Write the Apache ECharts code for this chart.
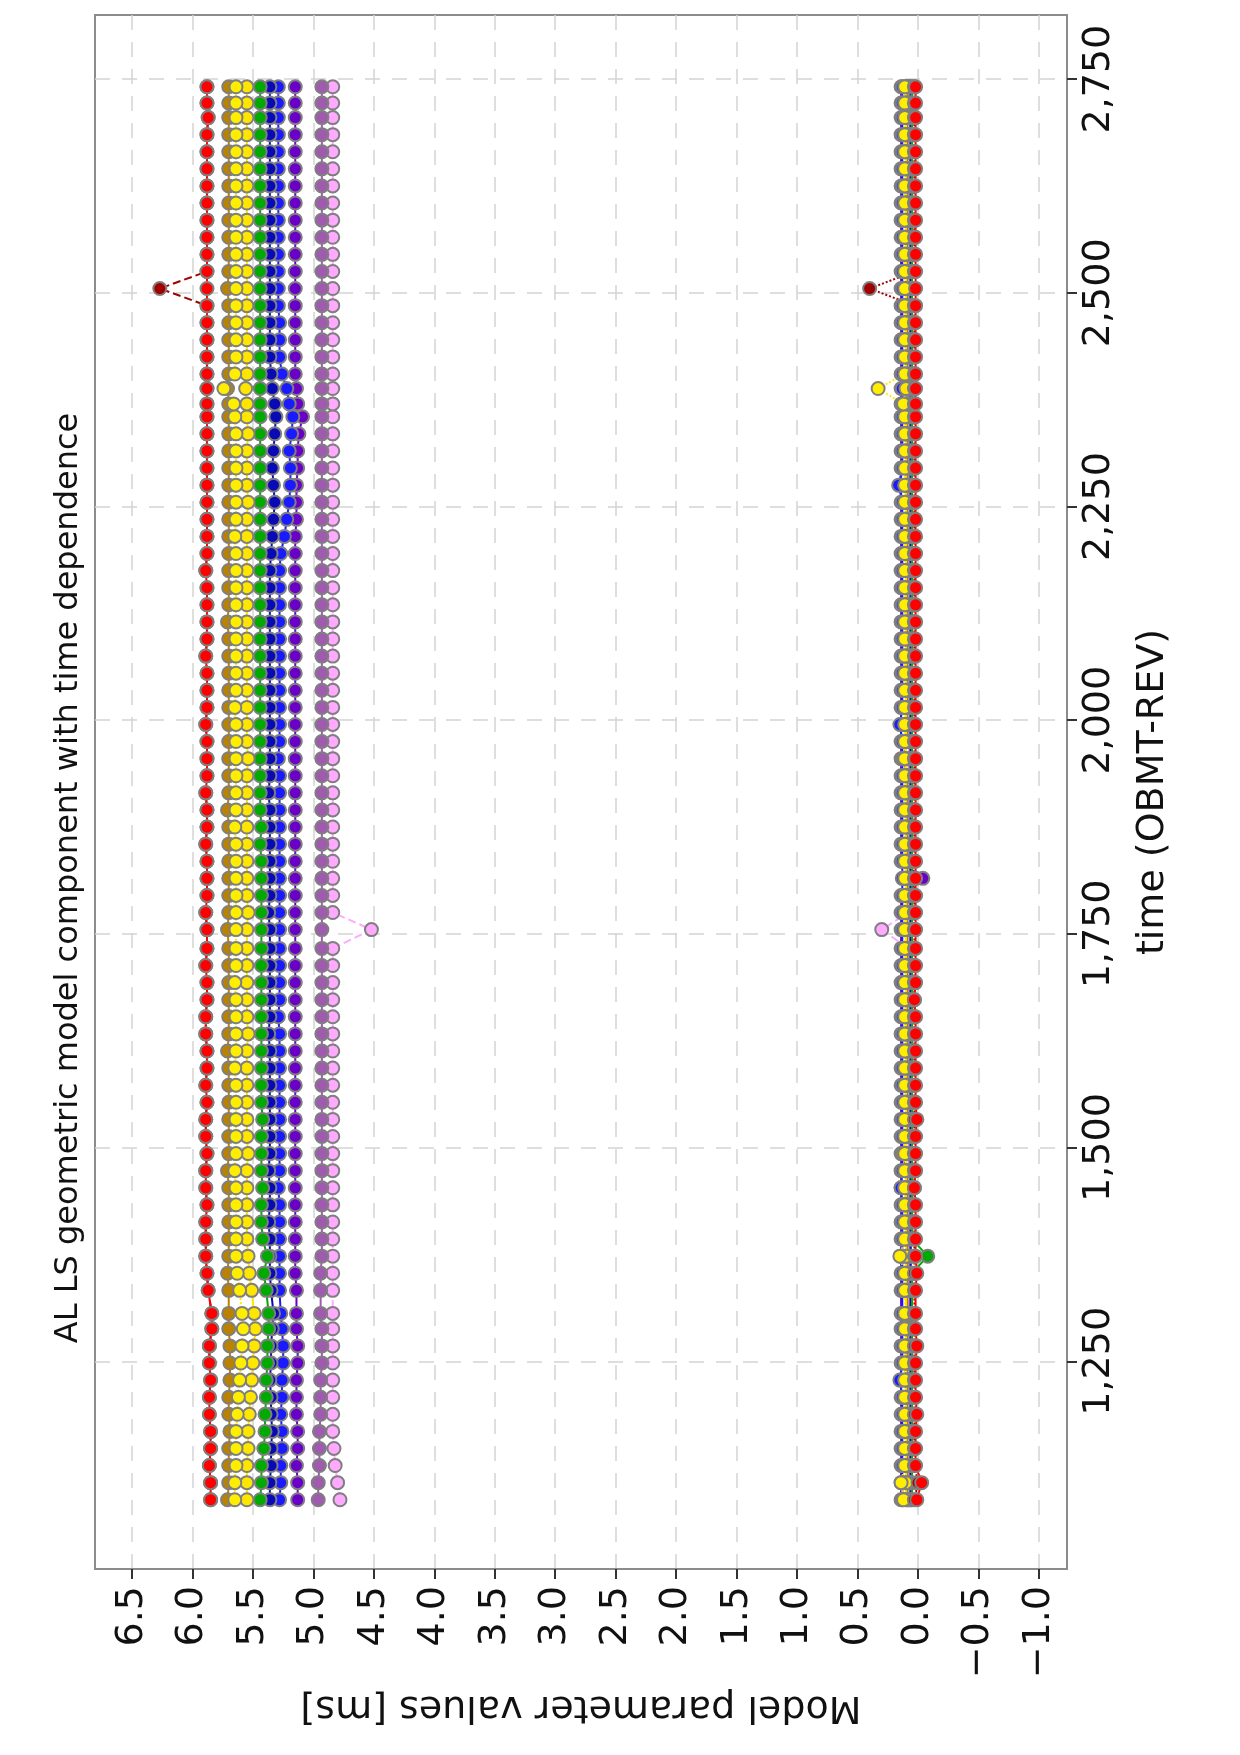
<!DOCTYPE html>
<html>
<head>
<meta charset="utf-8">
<title>AL LS geometric model component with time dependence</title>
<script src="https://cdn.jsdelivr.net/npm/echarts@6/dist/echarts.min.js"></script>
<style>
  html, body { margin: 0; padding: 0; background: #fff; }
  #main { width: 1240px; height: 1755px; }
</style>
</head>
<body>
<div id="main"></div>
<script>
// fit epochs, time (OBMT-REV)
var obmt = [
  1088,1108,1128,1148,1168,1188,1208,1228,1248,1268,1288,1306,
  1333,1353,1373,1393,1413,1433,1453,1473,1493,1513,1533,1553,
  1573,1593,1613,1633,1653,1673,1693,1713,1733,1755,1775,1795,
  1815,1835,1855,1875,1895,1915,1935,1955,1975,1995,2015,2035,
  2055,2075,2095,2115,2135,2155,2175,2195,2215,2235,2255,2275,
  2295,2315,2335,2355,2370,2388,2405,2425,2445,2465,2485,2505,
  2525,2545,2565,2585,2605,2625,2645,2665,2685,2705,2722,2741
];

// offset parameters [ms]
var offRed = [
  5.85,5.85,5.86,5.85,5.85,5.86,5.86,5.85,5.86,5.86,5.84,5.84,
  5.87,5.88,5.89,5.89,5.89,5.88,5.89,5.89,5.88,5.89,5.89,5.88,
  5.89,5.88,5.88,5.89,5.89,5.88,5.88,5.89,5.88,5.88,5.89,5.88,
  5.88,5.88,5.89,5.88,5.88,5.89,5.88,5.88,5.88,5.89,5.88,5.88,
  5.88,5.89,5.88,5.88,5.88,5.88,5.89,5.88,5.88,5.88,5.88,5.88,
  5.88,5.88,5.88,5.88,5.88,5.88,5.88,5.88,5.88,5.88,5.88,5.88,
  5.88,5.88,5.88,5.88,5.88,5.88,5.88,5.88,5.88,5.87,5.88,5.88
];
var offDarkred = [
  5.85,5.85,5.86,5.85,5.85,5.86,5.86,5.85,5.86,5.86,5.84,5.84,
  5.87,5.88,5.89,5.89,5.89,5.88,5.89,5.89,5.88,5.89,5.89,5.88,
  5.89,5.88,5.88,5.89,5.89,5.88,5.88,5.89,5.88,5.88,5.89,5.88,
  5.88,5.88,5.89,5.88,5.88,5.89,5.88,5.88,5.88,5.89,5.88,5.88,
  5.88,5.89,5.88,5.88,5.88,5.88,5.89,5.88,5.88,5.88,5.88,5.88,
  5.88,5.88,5.88,5.88,5.88,5.88,5.88,5.88,5.88,5.88,5.88,6.27,
  5.88,5.88,5.88,5.88,5.88,5.88,5.88,5.88,5.88,5.87,5.88,5.88
];
var offGoldenrod = [
  5.71,5.70,5.70,5.70,5.69,5.70,5.70,5.69,5.69,5.69,5.70,5.70,
  5.70,5.71,5.70,5.70,5.70,5.70,5.70,5.71,5.70,5.70,5.70,5.70,
  5.70,5.70,5.71,5.70,5.70,5.70,5.70,5.70,5.70,5.71,5.70,5.70,
  5.70,5.70,5.70,5.70,5.71,5.70,5.70,5.70,5.70,5.70,5.70,5.70,
  5.70,5.70,5.70,5.71,5.70,5.70,5.70,5.70,5.70,5.70,5.70,5.70,
  5.70,5.70,5.70,5.70,5.70,5.71,5.70,5.70,5.70,5.70,5.70,5.71,
  5.70,5.70,5.70,5.70,5.70,5.70,5.70,5.70,5.70,5.70,5.70,5.70
];
var offYellowA = [
  5.65,5.65,5.64,5.64,5.64,5.63,5.62,5.61,5.60,5.59,5.58,5.59,
  5.61,5.63,5.64,5.64,5.64,5.64,5.64,5.65,5.64,5.64,5.64,5.64,
  5.64,5.65,5.64,5.64,5.64,5.64,5.65,5.64,5.64,5.64,5.64,5.64,
  5.64,5.64,5.64,5.65,5.64,5.64,5.64,5.64,5.64,5.64,5.65,5.64,
  5.64,5.64,5.64,5.64,5.64,5.64,5.64,5.64,5.65,5.64,5.64,5.64,
  5.64,5.64,5.64,5.65,5.66,5.74,5.65,5.64,5.64,5.64,5.64,5.64,
  5.64,5.64,5.64,5.64,5.64,5.64,5.64,5.64,5.64,5.64,5.64,5.64
];
var offYellowB = [
  5.55,5.55,5.55,5.54,5.54,5.53,5.52,5.51,5.50,5.49,5.48,5.49,
  5.51,5.53,5.54,5.55,5.55,5.55,5.55,5.55,5.54,5.55,5.55,5.55,
  5.55,5.55,5.55,5.54,5.55,5.55,5.55,5.55,5.55,5.55,5.54,5.55,
  5.55,5.55,5.55,5.55,5.55,5.55,5.55,5.54,5.55,5.55,5.55,5.55,
  5.55,5.55,5.55,5.55,5.55,5.55,5.55,5.55,5.55,5.55,5.54,5.55,
  5.55,5.55,5.54,5.55,5.55,5.56,5.55,5.55,5.55,5.55,5.55,5.55,
  5.55,5.55,5.55,5.55,5.55,5.55,5.55,5.55,5.55,5.55,5.55,5.55
];
var offGreen = [
  5.44,5.43,5.43,5.41,5.40,5.40,5.39,5.39,5.38,5.38,5.37,5.37,
  5.39,5.41,5.38,5.42,5.43,5.43,5.42,5.43,5.43,5.43,5.42,5.43,
  5.43,5.43,5.43,5.43,5.43,5.43,5.43,5.43,5.43,5.43,5.43,5.43,
  5.43,5.43,5.44,5.43,5.44,5.44,5.44,5.44,5.44,5.44,5.44,5.44,
  5.44,5.44,5.44,5.44,5.44,5.44,5.44,5.44,5.44,5.44,5.44,5.44,
  5.44,5.44,5.44,5.44,5.44,5.44,5.44,5.44,5.44,5.44,5.44,5.44,
  5.44,5.44,5.44,5.44,5.44,5.44,5.44,5.44,5.44,5.44,5.44,5.44
];
var offNavy = [
  5.36,5.36,5.35,5.35,5.34,5.35,5.35,5.36,5.35,5.35,5.34,5.33,
  5.35,5.36,5.36,5.36,5.37,5.36,5.36,5.37,5.36,5.36,5.36,5.36,
  5.36,5.36,5.36,5.37,5.36,5.36,5.36,5.36,5.36,5.36,5.37,5.36,
  5.36,5.36,5.36,5.36,5.36,5.37,5.36,5.36,5.36,5.36,5.36,5.36,
  5.36,5.36,5.36,5.36,5.36,5.36,5.36,5.35,5.34,5.33,5.32,5.33,
  5.34,5.33,5.32,5.31,5.32,5.34,5.35,5.36,5.36,5.36,5.36,5.36,
  5.36,5.36,5.36,5.36,5.36,5.36,5.36,5.36,5.36,5.36,5.36,5.36
];
var offBlue = [
  5.28,5.27,5.27,5.26,5.26,5.27,5.26,5.26,5.25,5.25,5.26,5.27,
  5.28,5.28,5.28,5.28,5.28,5.28,5.29,5.28,5.28,5.28,5.28,5.28,
  5.28,5.28,5.28,5.28,5.29,5.28,5.28,5.28,5.28,5.28,5.28,5.28,
  5.28,5.28,5.28,5.28,5.28,5.28,5.28,5.29,5.28,5.28,5.28,5.28,
  5.28,5.28,5.28,5.28,5.28,5.28,5.28,5.27,5.24,5.22,5.20,5.19,
  5.19,5.20,5.18,5.17,5.20,5.22,5.26,5.28,5.28,5.28,5.29,5.29,
  5.29,5.29,5.29,5.29,5.29,5.29,5.29,5.29,5.29,5.29,5.29,5.29
];
var offPurple = [
  5.13,5.13,5.14,5.13,5.13,5.14,5.14,5.14,5.13,5.13,5.14,5.14,
  5.14,5.15,5.15,5.15,5.15,5.15,5.15,5.15,5.15,5.15,5.15,5.15,
  5.15,5.15,5.15,5.15,5.15,5.15,5.15,5.15,5.15,5.15,5.15,5.15,
  5.15,5.15,5.15,5.15,5.15,5.15,5.15,5.15,5.15,5.15,5.15,5.15,
  5.15,5.15,5.15,5.15,5.15,5.15,5.15,5.15,5.15,5.14,5.14,5.14,
  5.13,5.13,5.12,5.09,5.13,5.14,5.15,5.15,5.15,5.15,5.15,5.15,
  5.15,5.15,5.15,5.15,5.15,5.15,5.15,5.15,5.15,5.15,5.15,5.15
];
var offOrchid = [
  4.96,4.96,4.95,4.95,4.95,4.94,4.94,4.94,4.93,4.93,4.93,4.94,
  4.94,4.94,4.93,4.93,4.93,4.93,4.93,4.93,4.93,4.93,4.93,4.93,
  4.93,4.93,4.93,4.93,4.93,4.93,4.93,4.93,4.93,4.93,4.93,4.93,
  4.93,4.93,4.93,4.93,4.93,4.93,4.93,4.93,4.93,4.93,4.93,4.93,
  4.93,4.93,4.93,4.93,4.93,4.93,4.93,4.93,4.93,4.93,4.93,4.93,
  4.93,4.93,4.93,4.93,4.93,4.93,4.93,4.93,4.93,4.93,4.93,4.93,
  4.93,4.93,4.93,4.93,4.93,4.93,4.93,4.93,4.93,4.93,4.93,4.93
];
var offPink = [
  4.78,4.80,4.82,4.83,4.84,4.84,4.84,4.84,4.84,4.84,4.84,4.84,
  4.84,4.84,4.84,4.84,4.84,4.84,4.84,4.84,4.84,4.84,4.84,4.84,
  4.84,4.84,4.84,4.84,4.84,4.84,4.84,4.84,4.84,4.52,4.84,4.84,
  4.84,4.84,4.84,4.84,4.84,4.84,4.84,4.84,4.84,4.84,4.84,4.84,
  4.84,4.84,4.84,4.84,4.84,4.84,4.84,4.84,4.84,4.84,4.84,4.84,
  4.84,4.84,4.84,4.84,4.84,4.84,4.84,4.84,4.84,4.84,4.84,4.84,
  4.84,4.84,4.84,4.84,4.84,4.84,4.84,4.84,4.84,4.84,4.84,4.84
];

// time dependent parameters [ms]
var tdRed = [
  0.01,-0.03,0.02,0.02,0.02,0.01,0.02,0.02,0.02,0.01,0.02,0.02,
  0.02,0.01,0.02,0.02,0.02,0.02,0.03,0.02,0.02,0.02,0.01,0.02,
  0.02,0.02,0.02,0.02,0.02,0.03,0.02,0.02,0.02,0.02,0.02,0.02,
  0.02,0.02,0.02,0.02,0.02,0.02,0.02,0.02,0.02,0.02,0.02,0.02,
  0.02,0.02,0.02,0.02,0.02,0.02,0.02,0.02,0.02,0.02,0.02,0.02,
  0.02,0.02,0.02,0.02,0.02,0.02,0.02,0.02,0.02,0.02,0.02,0.02,
  0.02,0.02,0.02,0.02,0.02,0.02,0.02,0.02,0.02,0.02,0.02,0.02
];
var tdDarkred = [
  0.03,0.00,0.03,0.03,0.03,0.03,0.03,0.03,0.03,0.03,0.03,0.03,
  0.03,0.03,0.03,0.03,0.03,0.03,0.03,0.03,0.03,0.03,0.03,0.03,
  0.03,0.03,0.03,0.03,0.03,0.03,0.03,0.03,0.03,0.03,0.03,0.03,
  0.03,0.03,0.03,0.03,0.03,0.03,0.03,0.03,0.03,0.03,0.03,0.03,
  0.03,0.03,0.03,0.03,0.03,0.03,0.03,0.03,0.03,0.03,0.03,0.03,
  0.03,0.03,0.03,0.03,0.03,0.03,0.03,0.03,0.03,0.03,0.03,0.40,
  0.03,0.03,0.03,0.03,0.03,0.03,0.03,0.03,0.03,0.03,0.03,0.03
];
var tdGoldenrod = [
  0.09,0.09,0.09,0.09,0.09,0.09,0.09,0.09,0.09,0.09,0.09,0.09,
  0.09,0.09,0.09,0.09,0.09,0.09,0.09,0.09,0.13,0.09,0.09,0.09,
  0.09,0.09,0.09,0.09,0.09,0.09,0.09,0.09,0.09,0.09,0.09,0.09,
  0.09,0.09,0.09,0.09,0.09,0.09,0.09,0.12,0.09,0.09,0.09,0.09,
  0.09,0.09,0.09,0.09,0.09,0.09,0.09,0.09,0.09,0.09,0.09,0.09,
  0.09,0.09,0.09,0.09,0.09,0.09,0.09,0.09,0.09,0.09,0.09,0.09,
  0.09,0.09,0.09,0.09,0.09,0.09,0.09,0.09,0.09,0.09,0.09,0.09
];
var tdYellowA = [
  0.12,0.14,0.11,0.11,0.11,0.11,0.11,0.11,0.11,0.11,0.11,0.11,
  0.11,0.11,0.15,0.11,0.11,0.11,0.11,0.11,0.11,0.11,0.11,0.11,
  0.11,0.11,0.11,0.11,0.11,0.11,0.11,0.11,0.11,0.11,0.11,0.11,
  0.11,0.11,0.11,0.11,0.11,0.11,0.11,0.11,0.11,0.11,0.11,0.11,
  0.11,0.11,0.11,0.11,0.11,0.11,0.11,0.11,0.11,0.11,0.11,0.11,
  0.11,0.11,0.11,0.11,0.12,0.33,0.11,0.11,0.11,0.11,0.11,0.11,
  0.11,0.11,0.11,0.11,0.11,0.11,0.11,0.11,0.11,0.11,0.11,0.11
];
var tdYellowB = [
  0.10,0.10,0.10,0.10,0.10,0.10,0.10,0.10,0.10,0.10,0.10,0.10,
  0.10,0.10,0.10,0.10,0.10,0.10,0.10,0.10,0.10,0.10,0.10,0.10,
  0.10,0.10,0.10,0.10,0.10,0.10,0.10,0.10,0.10,0.10,0.10,0.10,
  0.10,0.10,0.10,0.10,0.10,0.10,0.10,0.10,0.10,0.10,0.10,0.10,
  0.10,0.10,0.10,0.10,0.10,0.10,0.10,0.10,0.10,0.10,0.10,0.10,
  0.10,0.10,0.10,0.10,0.10,0.10,0.10,0.10,0.10,0.10,0.10,0.10,
  0.10,0.10,0.10,0.10,0.10,0.10,0.10,0.10,0.10,0.10,0.10,0.10
];
var tdGreen = [
  0.05,0.05,0.05,0.05,0.05,0.05,0.05,0.05,0.05,0.05,0.05,0.05,
  0.05,0.05,-0.08,0.05,0.05,0.05,0.05,0.05,0.05,0.05,0.05,0.05,
  0.05,0.05,0.05,0.05,0.05,0.05,0.05,0.05,0.05,0.05,0.05,0.05,
  0.05,0.05,0.05,0.05,0.05,0.05,0.05,0.05,0.05,0.05,0.05,0.05,
  0.05,0.05,0.05,0.05,0.05,0.05,0.05,0.05,0.05,0.05,0.05,0.05,
  0.05,0.05,0.05,0.05,0.05,0.05,0.05,0.05,0.05,0.05,0.05,0.05,
  0.05,0.05,0.05,0.05,0.05,0.05,0.05,0.05,0.05,0.05,0.05,0.05
];
var tdNavy = [
  0.06,0.06,0.06,0.06,0.06,0.06,0.06,0.06,0.06,0.06,0.06,0.06,
  0.06,0.06,0.06,0.06,0.06,0.06,0.06,0.06,0.06,0.06,0.06,0.06,
  0.06,0.06,0.06,0.06,0.06,0.06,0.06,0.06,0.06,0.06,0.06,0.06,
  0.06,0.06,0.06,0.06,0.06,0.06,0.06,0.06,0.06,0.06,0.06,0.06,
  0.06,0.06,0.06,0.06,0.06,0.06,0.06,0.06,0.06,0.06,0.06,0.06,
  0.06,0.06,0.06,0.06,0.06,0.06,0.06,0.06,0.06,0.06,0.06,0.06,
  0.06,0.06,0.06,0.06,0.06,0.06,0.06,0.06,0.06,0.06,0.06,0.06
];
var tdBlue = [
  0.13,0.13,0.13,0.13,0.13,0.13,0.13,0.15,0.13,0.13,0.13,0.13,
  0.13,0.13,0.13,0.13,0.13,0.13,0.14,0.13,0.13,0.13,0.13,0.13,
  0.13,0.13,0.13,0.13,0.13,0.13,0.13,0.13,0.13,0.13,0.13,0.13,
  0.13,0.13,0.13,0.13,0.13,0.13,0.13,0.13,0.13,0.15,0.13,0.13,
  0.13,0.13,0.13,0.13,0.13,0.13,0.13,0.13,0.13,0.13,0.13,0.16,
  0.13,0.13,0.13,0.13,0.13,0.13,0.13,0.13,0.13,0.13,0.13,0.13,
  0.13,0.13,0.13,0.13,0.13,0.13,0.13,0.13,0.13,0.13,0.13,0.13
];
var tdPurple = [
  0.14,0.14,0.14,0.14,0.14,0.14,0.14,0.14,0.14,0.14,0.14,0.14,
  0.14,0.14,0.14,0.14,0.14,0.14,0.14,0.14,0.14,0.14,0.14,0.14,
  0.14,0.14,0.14,0.14,0.14,0.14,0.14,0.14,0.14,0.14,0.14,0.14,
  -0.04,0.14,0.14,0.14,0.14,0.14,0.14,0.14,0.14,0.14,0.14,0.14,
  0.14,0.14,0.14,0.14,0.14,0.14,0.14,0.14,0.14,0.14,0.14,0.14,
  0.14,0.14,0.14,0.14,0.14,0.14,0.14,0.14,0.14,0.14,0.14,0.14,
  0.14,0.14,0.14,0.14,0.14,0.14,0.14,0.14,0.14,0.14,0.14,0.14
];
var tdOrchid = [
  0.07,0.07,0.07,0.07,0.07,0.07,0.07,0.07,0.07,0.07,0.07,0.07,
  0.07,0.07,0.07,0.07,0.07,0.07,0.07,0.07,0.07,0.07,0.07,0.07,
  0.07,0.07,0.07,0.07,0.07,0.07,0.07,0.07,0.07,0.07,0.07,0.07,
  0.07,0.07,0.07,0.07,0.07,0.07,0.07,0.07,0.07,0.07,0.07,0.07,
  0.07,0.07,0.07,0.07,0.07,0.07,0.07,0.07,0.07,0.07,0.07,0.07,
  0.07,0.07,0.07,0.07,0.07,0.07,0.07,0.07,0.07,0.07,0.07,0.07,
  0.07,0.07,0.07,0.07,0.07,0.07,0.07,0.07,0.07,0.07,0.07,0.07
];
var tdPink = [
  0.08,0.08,0.08,0.08,0.08,0.08,0.08,0.08,0.08,0.08,0.08,0.08,
  0.08,0.08,0.08,0.08,0.08,0.08,0.08,0.08,0.08,0.08,0.08,0.08,
  0.08,0.08,0.08,0.08,0.08,0.08,0.08,0.08,0.08,0.30,0.08,0.08,
  0.08,0.08,0.08,0.08,0.08,0.08,0.08,0.08,0.08,0.08,0.08,0.08,
  0.08,0.08,0.08,0.08,0.08,0.08,0.08,0.08,0.08,0.08,0.08,0.08,
  0.08,0.08,0.08,0.08,0.08,0.08,0.08,0.08,0.08,0.08,0.08,0.08,
  0.08,0.08,0.08,0.08,0.08,0.08,0.08,0.08,0.08,0.08,0.08,0.08
];

// axis ticks
var valueTicks = [-1.0,-0.5,0.0,0.5,1.0,1.5,2.0,2.5,3.0,3.5,4.0,4.5,5.0,5.5,6.0,6.5];
var timeTicks = [1250,1500,1750,2000,2250,2500,2750];

var FONT = 'DejaVu Sans';

function line(name, values, color, dash) {
  return {
    name: name,
    type: 'line',
    data: values.map(function (v, i) { return [v, obmt[i]]; }),
    symbol: 'circle',
    symbolSize: 13,
    lineStyle: { color: color, width: 2, type: dash || 'solid' },
    itemStyle: { color: color, borderColor: '#7f7f7f', borderWidth: 2 },
    emphasis: { disabled: true },
    animation: false
  };
}

var chart = echarts.init(document.getElementById('main'), null, { renderer: 'canvas' });

var option = {
  backgroundColor: '#ffffff',
  grid: {
    left: 95, right: 173, top: 15, bottom: 186,
    show: true, backgroundColor: '#ffffff',
    borderColor: '#8c8c8c', borderWidth: 2
  },
  graphic: [{
    type: 'text',
    x: 69, y: 878,
    rotation: Math.PI / 2,
    style: {
      text: 'AL LS geometric model component with time dependence',
      fontSize: 32, fontFamily: FONT, fill: '#111',
      align: 'center', verticalAlign: 'middle'
    }
  }],
  xAxis: {
    type: 'value',
    position: 'bottom',
    inverse: true,
    min: -1.232, max: 6.806,
    name: 'Model parameter values [ms]',
    nameLocation: 'middle',
    nameRotate: 180,
    nameGap: 119,
    nameTextStyle: { fontSize: 38, fontFamily: FONT, color: '#111' },
    axisLine: { show: true, onZero: false, lineStyle: { color: '#8c8c8c', width: 2 } },
    axisTick: { show: true, length: 10, customValues: valueTicks, lineStyle: { color: '#333', width: 2 } },
    axisLabel: {
      customValues: valueTicks,
      rotate: 90, margin: 17,
      fontSize: 38, fontFamily: FONT, color: '#111',
      formatter: function (v) { return v.toFixed(1).replace('-', '\u2212'); }
    },
    splitLine: { show: true, lineStyle: { color: '#d4d4d4', width: 1.5, type: [15, 12] } }
  },
  yAxis: {
    type: 'value',
    position: 'right',
    min: 1007, max: 2825,
    name: 'time (OBMT-REV)',
    nameLocation: 'middle',
    nameRotate: 90,
    nameGap: 67,
    nameTextStyle: { fontSize: 38, fontFamily: FONT, color: '#111' },
    axisLine: { show: true, onZero: false, lineStyle: { color: '#8c8c8c', width: 2 } },
    axisTick: { show: true, length: 10, customValues: timeTicks, lineStyle: { color: '#333', width: 2 } },
    axisLabel: {
      customValues: timeTicks,
      rotate: 90, margin: 13,
      fontSize: 38, fontFamily: FONT, color: '#111',
      formatter: function (v) { return v.toLocaleString('en-US'); }
    },
    splitLine: { show: true, lineStyle: { color: '#d4d4d4', width: 1.5, type: [15, 12] } }
  },
  series: [
    // offsets
    line('offPink', offPink, '#ffaaff', 'dashed'),
    line('offOrchid', offOrchid, '#a05bb0'),
    line('offPurple', offPurple, '#6a00c8'),
    line('offBlue', offBlue, '#1a1aff'),
    line('offNavy', offNavy, '#0a0ab4'),
    line('offGreen', offGreen, '#00aa00'),
    line('offYellowB', offYellowB, '#ffe600'),
    line('offGoldenrod', offGoldenrod, '#bb8200'),
    line('offYellowA', offYellowA, '#ffee00', 'dotted'),
    line('offDarkred', offDarkred, '#a00000', 'dashed'),
    line('offRed', offRed, '#ff0000'),
    // time dependence
    line('tdPurple', tdPurple, '#6a00c8'),
    line('tdBlue', tdBlue, '#1a1aff'),
    line('tdPink', tdPink, '#ffaaff', 'dashed'),
    line('tdOrchid', tdOrchid, '#a05bb0'),
    line('tdNavy', tdNavy, '#0a0ab4'),
    line('tdGreen', tdGreen, '#00aa00'),
    line('tdGoldenrod', tdGoldenrod, '#bb8200'),
    line('tdYellowB', tdYellowB, '#ffe600'),
    line('tdYellowA', tdYellowA, '#ffee00', 'dotted'),
    line('tdDarkred', tdDarkred, '#a00000', 'dotted'),
    line('tdRed', tdRed, '#ff0000')
  ]
};

chart.setOption(option);
</script>
</body>
</html>
